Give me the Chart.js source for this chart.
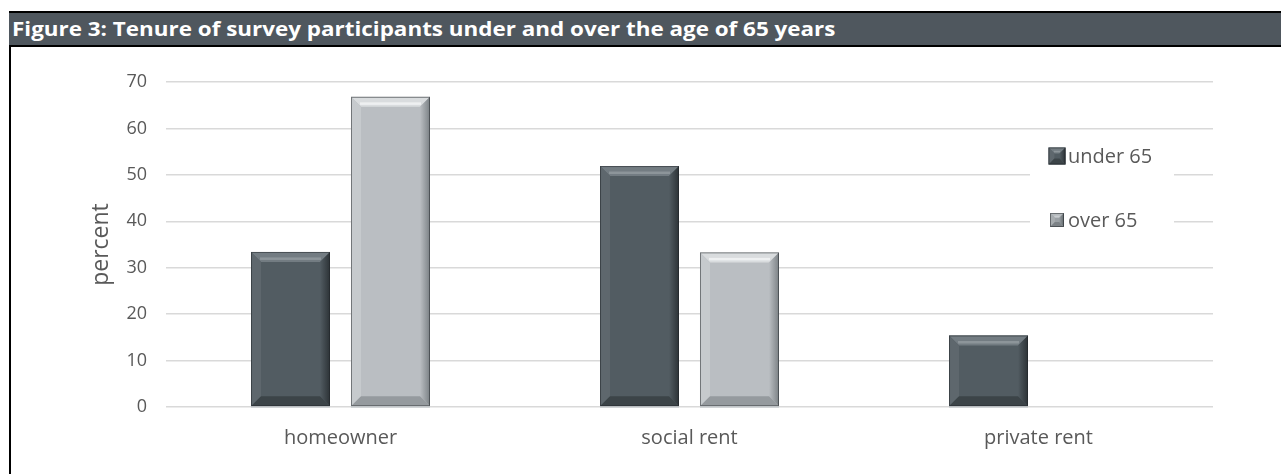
<!DOCTYPE html>
<html>
<head>
<meta charset="utf-8">
<script src="https://cdn.jsdelivr.net/npm/chart.js@4"></script>
<style>
  html, body { margin: 0; padding: 0; background: #ffffff; }
  body { width: 1281px; height: 474px; position: relative; overflow: hidden; }
  #frame-left { position: absolute; left: 9px; top: 11px; width: 2px; height: 463px; background: #000; }
  #title-bar {
    position: absolute; left: 9px; top: 11px; width: 1272px; height: 32px;
    background: #4f575e; border-top: 2px solid #000; border-bottom: 2px solid #000;
    box-sizing: content-box; overflow: hidden;
  }
  #title-bar span {
    position: absolute; left: 3px; top: 0; line-height: 32px; white-space: nowrap;
    color: #ffffff; font-family: "Open Sans", sans-serif; font-weight: 700; font-size: 19px;
    transform: scaleX(1.18); transform-origin: left center;
  }
  #chart-box { position: absolute; left: 11px; top: 47px; width: 1270px; height: 427px; }
</style>
</head>
<body>
<div id="frame-left"></div>
<div id="title-bar"><span>Figure 3: Tenure of survey participants under and over the age of 65 years</span></div>
<div id="chart-box"><canvas id="chart"></canvas></div>
<script>
const categories = ['homeowner', 'social rent', 'private rent'];
const under65 = [33.4, 51.9, 15.4];
const over65 = [66.8, 33.3, 0];
const seriesNames = ['under 65', 'over 65'];
const yTicks = [0, 10, 20, 30, 40, 50, 60, 70];

const FONT = '"Open Sans", sans-serif';
const TEXT = '#595959';

// Shading for the bevelled bar faces: face, top, left, right, bottom
const bevelShades = [
  { face: '#525c62', top: '#737c82', hi: '#8d959a', left: '#5e676d', right: '#2c3236', bottom: '#3c4448' },
  { face: '#babec2', top: '#d9dcde', hi: '#eef0f1', left: '#c6cacd', right: '#7b8185', bottom: '#959a9e' }
];
const legendShades = [
  bevelShades[0],
  { face: '#9aa0a4', top: '#b5babd', hi: '#c9cdd0', left: '#a7acaf', right: '#5f666a', bottom: '#7c8286' }
];

function drawBevel(ctx, x0, y0, x1, y1, s, b) {
  const w = x1 - x0, h = y1 - y0;
  b = Math.min(b, w / 2, h / 2);
  // top
  ctx.fillStyle = s.top;
  ctx.beginPath(); ctx.moveTo(x0, y0); ctx.lineTo(x1, y0); ctx.lineTo(x1 - b, y0 + b); ctx.lineTo(x0 + b, y0 + b); ctx.closePath(); ctx.fill();
  ctx.fillStyle = s.hi;
  ctx.fillRect(x0 + b * 0.9, y0 + b * 0.55, w - 1.8 * b, Math.max(1.5, b * 0.25));
  // left
  ctx.fillStyle = s.left;
  ctx.beginPath(); ctx.moveTo(x0, y0); ctx.lineTo(x0 + b, y0 + b); ctx.lineTo(x0 + b, y1 - b); ctx.lineTo(x0, y1); ctx.closePath(); ctx.fill();
  // right
  const g = ctx.createLinearGradient(x1 - b, 0, x1, 0);
  g.addColorStop(0, s.face); g.addColorStop(1, s.right);
  ctx.fillStyle = g;
  ctx.beginPath(); ctx.moveTo(x1, y0); ctx.lineTo(x1, y1); ctx.lineTo(x1 - b, y1 - b); ctx.lineTo(x1 - b, y0 + b); ctx.closePath(); ctx.fill();
  // bottom
  ctx.fillStyle = s.bottom;
  ctx.beginPath(); ctx.moveTo(x0, y1); ctx.lineTo(x1, y1); ctx.lineTo(x1 - b, y1 - b); ctx.lineTo(x0 + b, y1 - b); ctx.closePath(); ctx.fill();
  // thin frame
  ctx.strokeStyle = 'rgba(30,34,37,0.5)';
  ctx.lineWidth = 1;
  ctx.strokeRect(x0 + 0.5, y0 + 0.5, w - 1, h - 1);
}

const bevelPlugin = {
  id: 'bevel',
  afterDatasetsDraw(chart) {
    const ctx = chart.ctx;
    ctx.save();
    chart.data.datasets.forEach((ds, di) => {
      const meta = chart.getDatasetMeta(di);
      meta.data.forEach(bar => {
        const { x, y, width, base } = bar.getProps(['x', 'y', 'width', 'base'], true);
        if (Math.abs(base - y) < 1) return;
        const x0 = x - width / 2, x1 = x + width / 2;
        drawBevel(ctx, x0, Math.min(y, base), x1, Math.max(y, base), bevelShades[di], 10);
        // light baseline under the bar
        ctx.fillStyle = '#c9cdd0';
        ctx.fillRect(x0, base, width, 1.5);
      });
    });
    ctx.restore();
  }
};

const legendPlugin = {
  id: 'boxLegend',
  afterDraw(chart) {
    const ctx = chart.ctx;
    ctx.save();
    const bx = 1019, by = 88, bw = 144, bh = 108;
    ctx.fillStyle = '#ffffff';
    ctx.fillRect(bx, by, bw, bh);
    const rows = [109, 173];
    const sizes = [17, 14];
    chart.data.datasets.forEach((ds, i) => {
      const sz = sizes[i];
      const cx = 1046;
      const x0 = cx - sz / 2, y0 = rows[i] - sz / 2;
      const s = legendShades[i];
      ctx.fillStyle = s.face;
      ctx.fillRect(x0, y0, sz, sz);
      drawBevel(ctx, x0, y0, x0 + sz, y0 + sz, s, sz * 0.35);
      ctx.fillStyle = TEXT;
      ctx.font = '20px ' + FONT;
      ctx.textBaseline = 'middle';
      ctx.textAlign = 'left';
      ctx.fillText(ds.label, 1057, rows[i] + 1);
    });
    ctx.restore();
  }
};

new Chart(document.getElementById('chart'), {
  type: 'bar',
  data: {
    labels: categories,
    datasets: [
      { label: seriesNames[0], data: under65, backgroundColor: bevelShades[0].face, borderWidth: 0 },
      { label: seriesNames[1], data: over65, backgroundColor: bevelShades[1].face, borderWidth: 0 }
    ]
  },
  options: {
    responsive: true,
    maintainAspectRatio: false,
    animation: false,
    events: [],
    categoryPercentage: 0.573,
    barPercentage: 0.79,
    layout: { padding: { top: 35, right: 68, bottom: 0, left: 0 } },
    plugins: {
      legend: { display: false },
      tooltip: { enabled: false },
      title: { display: false }
    },
    scales: {
      x: {
        grid: { display: false, drawTicks: false },
        border: { display: false },
        ticks: { color: TEXT, font: { family: FONT, size: 20 }, padding: 19 },
        afterFit(scale) { scale.height = 67; }
      },
      y: {
        min: 0,
        max: 70,
        afterBuildTicks(scale) { scale.ticks = yTicks.map(v => ({ value: v })); },
        grid: { color: '#d9d9d9', lineWidth: 1.5, drawTicks: false },
        border: { display: false },
        ticks: { color: TEXT, font: { family: FONT, size: 18 }, padding: 19 },
        title: { display: true, text: 'percent', color: TEXT, font: { family: FONT, size: 23 }, padding: { top: 77, bottom: 0 } },
        afterFit(scale) { scale.width = 155; }
      }
    }
  },
  plugins: [bevelPlugin, legendPlugin]
});
</script>
</body>
</html>
